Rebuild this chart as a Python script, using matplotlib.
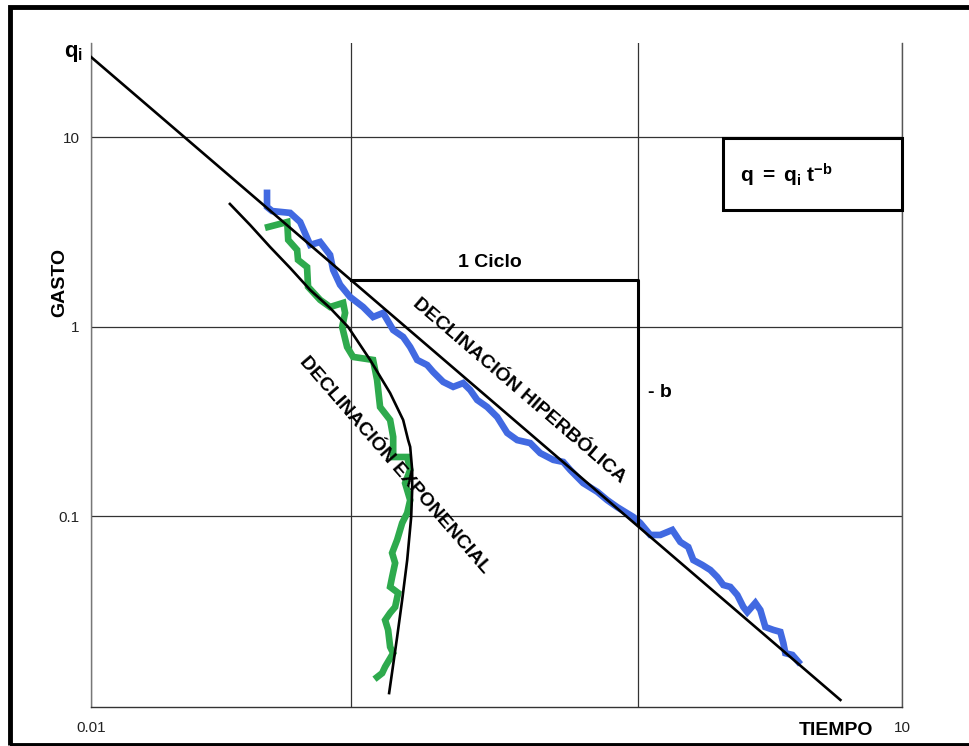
import numpy as np
import matplotlib
matplotlib.use('Agg')
import matplotlib.pyplot as plt
from matplotlib.patches import Rectangle

plt.rcParams['font.family'] = 'Liberation Sans'
plt.rcParams['mathtext.fontset'] = 'custom'
plt.rcParams['mathtext.rm'] = 'Liberation Sans'
plt.rcParams['mathtext.it'] = 'Liberation Sans:italic'
plt.rcParams['mathtext.bf'] = 'Liberation Sans:bold'

# datos (tiempo, gasto)
t_blue = [0.0475, 0.0475, 0.0497, 0.0583, 0.0637, 0.0696, 0.0760, 0.0830, 0.0853, 0.0907,
          0.0991, 0.1101, 0.1193, 0.1293, 0.1402, 0.1519, 0.1607, 0.1700, 0.1842, 0.1933,
          0.2095, 0.2270, 0.2460, 0.2603, 0.2753, 0.2984, 0.3233, 0.3504, 0.3797, 0.4215,
          0.4568, 0.5071, 0.5495, 0.5813, 0.6452, 0.7222, 0.7826, 0.8481, 0.9645, 1.022,
          1.115, 1.217, 1.351, 1.449, 1.553, 1.623, 1.755, 1.882, 2.001, 2.108,
          2.240, 2.382, 2.510, 2.599, 2.787, 2.911, 3.041, 3.261, 3.466, 3.557,
          3.620, 3.848, 4.055]
q_blue = [5.10, 4.30, 4.09, 4.00, 3.58, 2.71, 2.81, 2.40, 2.00, 1.67,
          1.44, 1.275, 1.129, 1.186, 0.964, 0.886, 0.784, 0.670, 0.630, 0.579,
          0.513, 0.483, 0.506, 0.465, 0.412, 0.378, 0.335, 0.276, 0.253, 0.244,
          0.216, 0.199, 0.194, 0.176, 0.150, 0.135, 0.122, 0.112, 0.0994, 0.0924,
          0.0799, 0.0799, 0.0849, 0.0734, 0.0690, 0.0589, 0.0555, 0.0522, 0.0479, 0.0435,
          0.0425, 0.0385, 0.0333, 0.0313, 0.0350, 0.0321, 0.0261, 0.0252, 0.0246, 0.0215,
          0.0190, 0.0186, 0.0171]

t_green = [0.0480, 0.0568, 0.0573, 0.0620, 0.0625, 0.0677, 0.0683, 0.0760, 0.0830, 0.0932,
           0.0948, 0.0924, 0.0965, 0.1016, 0.1193, 0.1232, 0.1262, 0.1368, 0.1402, 0.1402,
           0.1569, 0.1607, 0.1543, 0.1607, 0.1569, 0.1507, 0.1447, 0.1390, 0.1424, 0.1390,
           0.1368, 0.1459, 0.1424, 0.1368, 0.1314, 0.1346, 0.1368, 0.1402, 0.1314, 0.1283,
           0.1232]
q_green = [3.37, 3.58, 2.88, 2.55, 2.26, 2.07, 1.63, 1.39, 1.275, 1.34,
           1.186, 1.0, 0.784, 0.695, 0.670, 0.525, 0.378, 0.323, 0.263, 0.206,
           0.206, 0.176, 0.150, 0.122, 0.1043, 0.0924, 0.0752, 0.0642, 0.0568, 0.0479,
           0.0425, 0.0395, 0.0333, 0.0310, 0.0284, 0.0252, 0.0205, 0.0190, 0.0161, 0.0149,
           0.0142]

# curva exponencial (trazo negro)
t_exp = [0.0342, 0.0409, 0.0488, 0.0583, 0.0696, 0.0830, 0.0974, 0.1165, 0.1368, 0.1519,
         0.1581, 0.1607, 0.1633, 0.1633, 0.1620, 0.1569, 0.1507, 0.1447, 0.1357]
q_exp = [4.458, 3.453, 2.644, 2.048, 1.568, 1.260, 1.0, 0.670, 0.448, 0.323,
         0.253, 0.233, 0.176, 0.138, 0.0994, 0.0589, 0.0363, 0.0231, 0.0117]

# recta hiperbolica
t_hyp = [0.01, 5.85]
q_hyp = [26.6, 0.01076]

# triangulo de pendiente (1 ciclo / -b)
t_tri = [0.1, 1.0, 1.0]
q_tri = [1.77, 1.77, 0.0902]

x_ticks = [0.01, 0.1, 1, 10]
x_labels = ['0.01', '', '', '10']
y_ticks = [0.1, 1, 10]
y_labels = ['0.1', '1', '10']

# el eje de tiempo del original no tiene decadas iguales
dec_log = [-3, -2, -1, 0, 1, 2]
dec_pos = [-260, 0, 260, 546.5, 810.5, 1075]


def fwd(x):
    x = np.clip(np.asarray(x, dtype=float), 1e-6, None)
    return np.interp(np.log10(x), dec_log, dec_pos)


def inv(p):
    return 10 ** np.interp(p, dec_pos, dec_log)


fig = plt.figure(figsize=(9.7, 7.46), dpi=100)
ax = fig.add_axes([0.0938, 0.0523, 0.836, 0.890])
ax.set_xscale('function', functions=(fwd, inv))
ax.set_yscale('log')

ax.plot(t_blue, q_blue, color='#4169e1', lw=4.8, solid_joinstyle='miter', zorder=3)
ax.plot(t_green, q_green, color='#2eaa4d', lw=4.8, solid_joinstyle='miter', zorder=3)
ax.plot(t_hyp, q_hyp, color='black', lw=1.9, zorder=4)
ax.plot(t_exp, q_exp, color='black', lw=1.9, zorder=4)
ax.plot(t_tri, q_tri, color='black', lw=2.2, zorder=4)

ax.set_xlim(0.01, 10)
ax.set_ylim(0.00988, 31.5)
ax.set_xticks(x_ticks)
ax.set_xticklabels(x_labels)
ax.set_yticks(y_ticks)
ax.set_yticklabels(y_labels)
ax.minorticks_off()
ax.tick_params(length=0, labelsize=11, labelcolor='#222222')
ax.tick_params(axis='x', pad=10)
ax.tick_params(axis='y', pad=8)
ax.grid(True, color='#333333', lw=0.9)

ax.spines['top'].set_visible(False)
ax.spines['left'].set_color('#777777')
ax.spines['right'].set_color('#555555')
ax.spines['bottom'].set_color('#333333')
for s in ['left', 'right', 'bottom']:
    ax.spines[s].set_linewidth(1.0)

# cuadro con la ecuacion
ax.add_patch(Rectangle((0.779, 0.7485), 0.221, 0.1085, transform=ax.transAxes,
                       fill=True, facecolor='white', edgecolor='black', lw=2.2,
                       clip_on=False, zorder=5))
ax.text(0.858, 0.80, r'$\mathbf{q\ =\ q_{i}\ t^{-b}}$', transform=ax.transAxes,
        fontsize=15, ha='center', va='center', zorder=6)

ax.text(-0.01, 0.985, r'$\mathbf{q}_{\mathbf{i}}$', transform=ax.transAxes,
        fontsize=16, ha='right', va='center')

ax.text(0.492, 0.669, '1 Ciclo', transform=ax.transAxes, fontsize=14,
        fontweight='bold', ha='center', va='center')
ax.text(0.702, 0.474, '- b', transform=ax.transAxes, fontsize=14,
        fontweight='bold', ha='center', va='center')
ax.text(0.528, 0.476, 'DECLINACIÓN HIPERBÓLICA', transform=ax.transAxes, fontsize=14,
        fontweight='bold', ha='center', va='center', rotation=-40.6,
        rotation_mode='anchor', zorder=6)
ax.text(0.374, 0.364, 'DECLINACIÓN EXPONENCIAL', transform=ax.transAxes, fontsize=14,
        fontweight='bold', ha='center', va='center', rotation=-49,
        rotation_mode='anchor', zorder=6)

ax.text(-0.038, 0.639, 'GASTO', transform=ax.transAxes, fontsize=14,
        fontweight='bold', ha='center', va='center', rotation=90)
ax.text(0.919, -0.035, 'TIEMPO', transform=ax.transAxes, fontsize=14,
        fontweight='bold', ha='center', va='center')

# marco exterior
fig.patches.append(Rectangle((0.0108, 0.002), 1.1, 0.989, transform=fig.transFigure,
                             fill=False, edgecolor='black', lw=3.5))

fig.savefig('out.png', dpi=100)
